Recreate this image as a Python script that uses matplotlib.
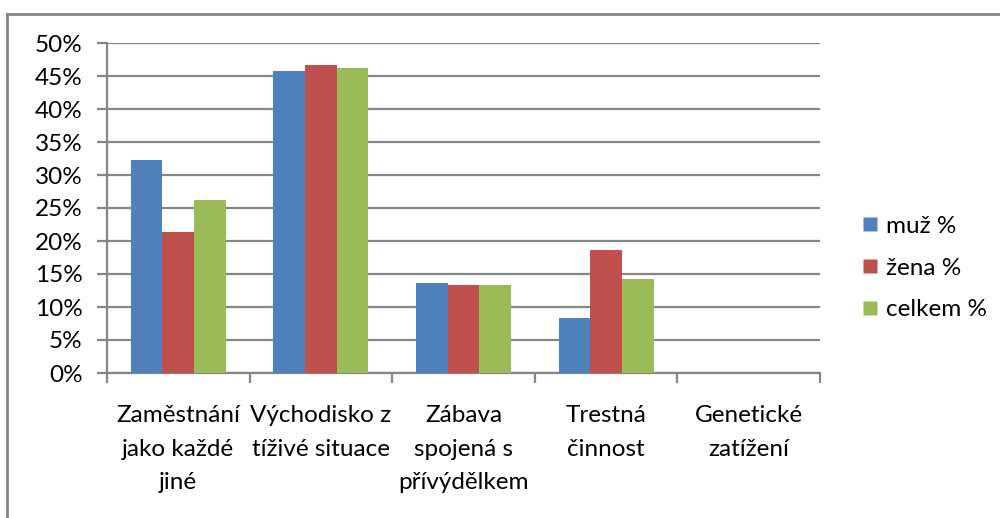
import matplotlib
matplotlib.use("Agg")
import matplotlib.pyplot as plt
import numpy as np
from matplotlib.lines import Line2D

plt.rcParams['font.family'] = ['Lato', 'DejaVu Sans']

categories = ["Zaměstnání\njako každé\njiné", "Východisko z\ntíživé situace",
              "Zábava\nspojená s\npřívýdělkem", "Trestná\nčinnost", "Genetické\nzatížení"]
series_names = ["muž %", "žena %", "celkem %"]
muz = [32.2, 45.7, 13.6, 8.4, 0.0]
zena = [21.4, 46.7, 13.3, 18.6, 0.0]
celkem = [26.2, 46.2, 13.4, 14.2, 0.0]
colors = ["#4F81BD", "#C0504D", "#9BBB59"]
yticks = [0, 5, 10, 15, 20, 25, 30, 35, 40, 45, 50]

fig = plt.figure(figsize=(10, 5.18), dpi=100)
ax = fig.add_axes([0.107, 1 - 373/518, 0.820 - 0.107, (373 - 43)/518])

x = np.arange(len(categories))
w = 1 / 4.5
for i, (vals, c) in enumerate(zip([muz, zena, celkem], colors)):
    ax.bar(x + (i - 1) * w, vals, width=w, color=c, label=series_names[i], zorder=3,
           edgecolor='none')

ax.set_xlim(-0.5, len(categories) - 0.5)
ax.set_ylim(0, 50)
ax.set_yticks(yticks)
ax.set_yticklabels([f"{v}%" for v in yticks])
ax.yaxis.grid(True, color='#868686', linewidth=1.6, zorder=0)
ax.set_xticks(np.arange(-0.5, len(categories), 1.0))
ax.set_xticklabels([])
ax.set_xticks(x, minor=True)
ax.set_xticklabels(categories, minor=True, fontsize=17.5, va='top')
for t in ax.get_xticklabels(minor=True):
    t.set_linespacing(1.75)
ax.tick_params(axis='x', which='minor', length=0, pad=23)
ax.tick_params(axis='x', which='major', length=7, width=1.6, color='#868686', direction='out')
ax.tick_params(axis='y', length=7, width=1.6, color='#868686', labelsize=17.5, pad=10.5)
for s in ['top', 'right']:
    ax.spines[s].set_visible(False)
for s in ['left', 'bottom']:
    ax.spines[s].set_color('#868686')
    ax.spines[s].set_linewidth(1.6)

handles = [Line2D([0], [0], marker='s', linestyle='none', markersize=9.5,
                  markerfacecolor=c, markeredgecolor='none') for c in colors]
fig.legend(handles, series_names, loc='center left', bbox_to_anchor=(0.840, 1 - 268/518),
           frameon=False, fontsize=17.5, handlelength=0.7, handletextpad=0.3, labelspacing=0.85)

# outer chart border (top and left visible)
fig.add_artist(Line2D([7/1000, 7/1000], [0, 1 - 13.5/518], color='#868686', linewidth=2, transform=fig.transFigure))
fig.add_artist(Line2D([7/1000, 1], [1 - 13.5/518, 1 - 13.5/518], color='#868686', linewidth=2, transform=fig.transFigure))

fig.savefig("out.png", dpi=100)
